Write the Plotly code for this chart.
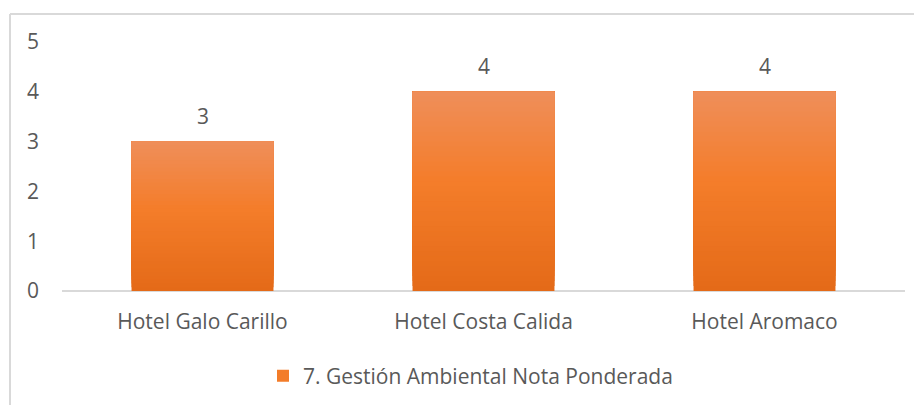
import plotly.graph_objects as go

categories = ["Hotel Galo Carillo", "Hotel Costa Calida", "Hotel Aromaco"]
values = [3, 4, 4]
series_name = "7. Gestión Ambiental Nota Ponderada"
y_ticks = [0, 1, 2, 3, 4, 5]

FONT = "Open Sans"
GRAY = "#595959"
FS = 21

OFF = 8  # page body margin
W, H = 922 - OFF, 405 - OFF
ML, MT = 62 - OFF, 42 - OFF
MR = W - (905 - OFF)
MB = H - (291 - OFF)
PW, PH = W - ML - MR, H - MT - MB

# gradient stops (bottom -> top)
stops = [(0.0, (0xE4, 0x6A, 0x18)), (0.55, (0xF4, 0x7D, 0x2A)), (1.0, (0xEF, 0x8E, 0x5A))]

def grad(t):
    for (t0, c0), (t1, c1) in zip(stops[:-1], stops[1:]):
        if t <= t1:
            f = (t - t0) / (t1 - t0) if t1 > t0 else 0
            return "rgb(%d,%d,%d)" % tuple(round(a + (b - a) * f) for a, b in zip(c0, c1))
    return "rgb(%d,%d,%d)" % stops[-1][1]

N = 40
fig = go.Figure()
for i in range(N):
    frac = i / N
    fig.add_trace(go.Bar(
        x=categories,
        y=[v * (1 - frac) for v in values],
        base=[v * frac for v in values],
        marker=dict(color=grad(frac + 0.5 / N), line=dict(width=0)),
        width=0.505,
        name=series_name,
        showlegend=(i == N // 2),
        hoverinfo="skip",
    ))

for c, v in zip(categories, values):
    fig.add_annotation(x=c, y=v, text=str(v), showarrow=False, yanchor="bottom",
                       yshift=10, font=dict(family=FONT, size=FS, color=GRAY))

def px_x(p):  # page px -> paper
    return (p - OFF - ML) / PW

def px_y(p):
    return (H - MB - (p - OFF)) / PH

# chart border (extends beyond canvas on right/bottom)
fig.add_shape(type="line", xref="paper", yref="paper", x0=px_x(10), x1=px_x(940),
              y0=px_y(14), y1=px_y(14), line=dict(color="#D9D9D9", width=2))
fig.add_shape(type="line", xref="paper", yref="paper", x0=px_x(10), x1=px_x(10),
              y0=px_y(14), y1=px_y(430), line=dict(color="#D9D9D9", width=2))

fig.update_layout(
    width=W, height=H,
    margin=dict(l=ML, r=MR, t=MT, b=MB, autoexpand=False),
    paper_bgcolor="white", plot_bgcolor="white",
    barmode="overlay", bargap=0.495,
    font=dict(family=FONT, size=FS, color=GRAY),
    showlegend=True,
    legend=dict(orientation="h", x=px_x(263), xanchor="left", y=px_y(376), yanchor="middle",
                font=dict(family=FONT, size=FS, color=GRAY), itemsizing="constant"),
    xaxis=dict(showgrid=False, showline=False, ticks="", zeroline=False,
               tickfont=dict(family=FONT, size=FS, color=GRAY), ticklabelstandoff=16),
    yaxis=dict(range=[0, 5], tickvals=y_ticks, showgrid=False, showline=False,
               zeroline=True, zerolinecolor="#D9D9D9", zerolinewidth=2,
               ticks="", tickfont=dict(family=FONT, size=FS, color=GRAY),
               ticklabelstandoff=22),
)

fig.write_html("out.html")
